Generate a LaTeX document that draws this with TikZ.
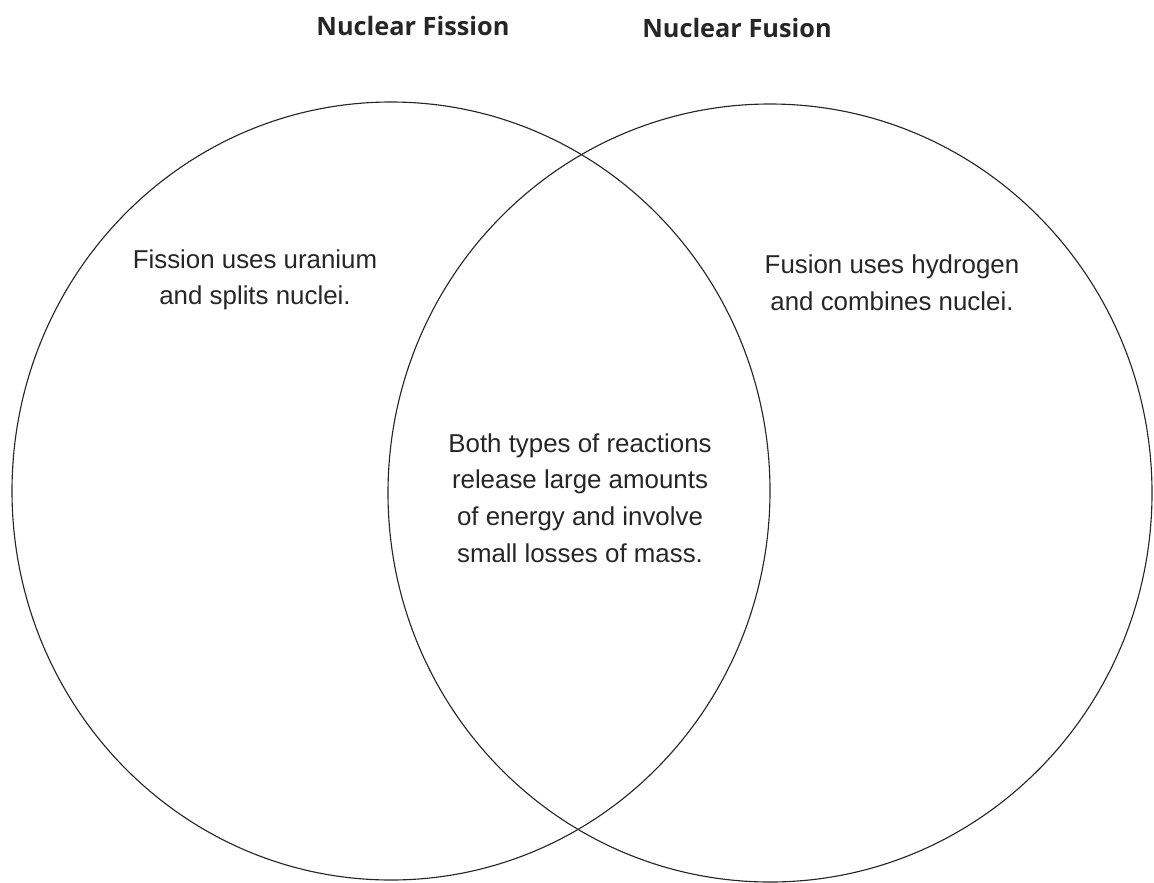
\documentclass[tikz,border=0pt]{standalone}
\usepackage{fontspec}
\setmainfont{Liberation Sans}
\newfontfamily\headfont{Open Sans}
\usepackage{tikz}
\usetikzlibrary{positioning}
\tikzstyle{ring} = [draw=black!85, line width=0.8pt]
\tikzstyle{heading} = [font=\headfont\bfseries\fontsize{18}{22}\selectfont, text=black!85]
\tikzstyle{note} = [font=\fontsize{18.4}{26}\selectfont, align=center, text=black!85]

\begin{document}
\begin{tikzpicture}[x=0.025cm, y=-0.025cm]
\useasboundingbox (0,0) rectangle (1154,882);

\draw [ring] (391,491) ellipse [x radius=379, y radius=389];
\draw [ring] (770,493) ellipse [x radius=382, y radius=389];

\node (fissiontitle) [heading] at (413,26) {Nuclear Fission};
\node (fusiontitle) [heading] at (737,28) {Nuclear Fusion};

\node (fission) [note] at (255,280) {Fission uses uranium\\and splits nuclei.};
\node (fusion) [note] at (892,283) {Fusion uses hydrogen\\and combines nuclei.};
\node (both) [note] at (580,498) {Both types of reactions\\release large amounts\\of energy and involve\\small losses of mass.};

\end{tikzpicture}
\end{document}
